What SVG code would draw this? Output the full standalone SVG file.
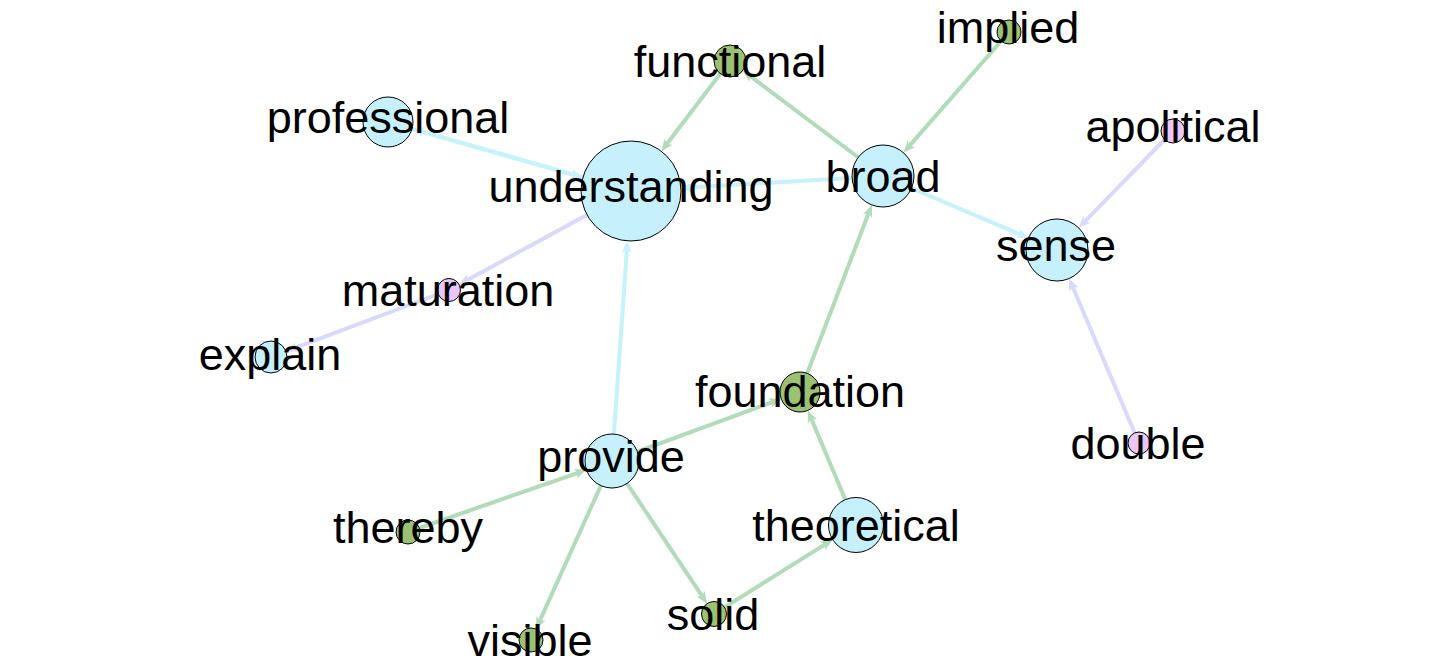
<svg xmlns="http://www.w3.org/2000/svg" width="1440" height="672" viewBox="0 0 1440 672">
<style>
.e{stroke-width:4;fill:none}
.g{stroke:#b2dbba}
.b{stroke:#c6f2fc}
.l{stroke:#d9d9fb}
.n{stroke:#000;stroke-width:1}
.nb{fill:#c6f1fc}
.ng{fill:#9bc272}
.np{fill:#ebc6f6}
text{font-family:"Liberation Sans",Arial,sans-serif;font-size:45px;fill:#000;text-anchor:middle}
</style>
<defs>
<marker id="ag" markerUnits="userSpaceOnUse" markerWidth="14" markerHeight="12" viewBox="0 -6 14 12" refX="3" refY="0" orient="auto"><path d="M0,-5 L12,0 L0,5 L3,0 z" fill="#b2dbba"/></marker>
<marker id="ab" markerUnits="userSpaceOnUse" markerWidth="14" markerHeight="12" viewBox="0 -6 14 12" refX="3" refY="0" orient="auto"><path d="M0,-5 L12,0 L0,5 L3,0 z" fill="#c6f2fc"/></marker>
<marker id="al" markerUnits="userSpaceOnUse" markerWidth="14" markerHeight="12" viewBox="0 -6 14 12" refX="3" refY="0" orient="auto"><path d="M0,-5 L12,0 L0,5 L3,0 z" fill="#d9d9fb"/></marker>
</defs>
<rect width="1440" height="672" fill="#fff"/>
<g id="edges">
<line class="e b" x1="388" y1="122" x2="574.2" y2="174.9" marker-end="url(#ab)"/>
<line class="e b" x1="631" y1="191" x2="420.7" y2="131.3" marker-end="url(#ab)"/>
<line class="e b" x1="883" y1="176" x2="689.9" y2="187.5" marker-end="url(#ab)"/>
<line class="e g" x1="883" y1="176" x2="750" y2="76" marker-end="url(#ag)"/>
<line class="e g" x1="730" y1="61" x2="666.8" y2="144" marker-end="url(#ag)"/>
<line class="e g" x1="1009" y1="32" x2="909.4" y2="145.9" marker-end="url(#ag)"/>
<line class="e b" x1="883" y1="176" x2="1020.2" y2="234.4" marker-end="url(#ab)"/>
<line class="e l" x1="1173" y1="131" x2="1084.9" y2="221.4" marker-end="url(#al)"/>
<line class="e l" x1="1139" y1="443" x2="1072.6" y2="286.8" marker-end="url(#al)"/>
<line class="e l" x1="631" y1="191" x2="467" y2="280.2" marker-end="url(#al)"/>
<line class="e l" x1="449" y1="290" x2="294.4" y2="348.2" marker-end="url(#al)"/>
<line class="e b" x1="612" y1="461" x2="626.9" y2="249.9" marker-end="url(#ab)"/>
<line class="e g" x1="800" y1="392" x2="868.6" y2="213.3" marker-end="url(#ag)"/>
<line class="e g" x1="612" y1="461" x2="772.8" y2="402" marker-end="url(#ag)"/>
<line class="e g" x1="856" y1="525" x2="811.3" y2="418.7" marker-end="url(#ag)"/>
<line class="e g" x1="408" y1="532" x2="578" y2="472.8" marker-end="url(#ag)"/>
<line class="e g" x1="612" y1="461" x2="539.7" y2="620.9" marker-end="url(#ag)"/>
<line class="e g" x1="612" y1="461" x2="702.1" y2="596.1" marker-end="url(#ag)"/>
<line class="e g" x1="714" y1="614" x2="825.1" y2="544.4" marker-end="url(#ag)"/>
</g>
<g id="node-understanding"><circle class="n nb" cx="631" cy="191" r="50"/><text x="631" y="202">understanding</text></g>
<g id="node-professional"><circle class="n nb" cx="388" cy="122" r="25"/><text x="388" y="133">professional</text></g>
<g id="node-broad"><circle class="n nb" cx="883" cy="176" r="31"/><text x="883" y="192">broad</text></g>
<g id="node-functional"><circle class="n ng" cx="730" cy="61" r="16"/><text x="730" y="77">functional</text></g>
<g id="node-implied"><circle class="n ng" cx="1009" cy="32" r="12"/><text x="1008" y="43">implied</text></g>
<g id="node-apolitical"><circle class="n np" cx="1173" cy="131" r="12"/><text x="1173" y="142">apolitical</text></g>
<g id="node-sense"><circle class="n nb" cx="1057" cy="250" r="31"/><text x="1056" y="261">sense</text></g>
<g id="node-maturation"><circle class="n np" cx="449" cy="290" r="11.5"/><text x="448" y="306">maturation</text></g>
<g id="node-explain"><circle class="n nb" cx="271" cy="357" r="16"/><text x="270" y="370">explain</text></g>
<g id="node-foundation"><circle class="n ng" cx="800" cy="392" r="20"/><text x="800" y="407">foundation</text></g>
<g id="node-provide"><circle class="n nb" cx="612" cy="461" r="27"/><text x="611" y="472">provide</text></g>
<g id="node-thereby"><circle class="n ng" cx="408" cy="532" r="12"/><text x="408" y="543">thereby</text></g>
<g id="node-theoretical"><circle class="n nb" cx="856" cy="525" r="27.5"/><text x="856" y="541">theoretical</text></g>
<g id="node-solid"><circle class="n ng" cx="714" cy="614" r="12.5"/><text x="713" y="630">solid</text></g>
<g id="node-visible"><circle class="n ng" cx="531" cy="640" r="12"/><text x="530" y="656">visible</text></g>
<g id="node-double"><circle class="n np" cx="1139" cy="443" r="11"/><text x="1138" y="459">double</text></g>
</svg>
